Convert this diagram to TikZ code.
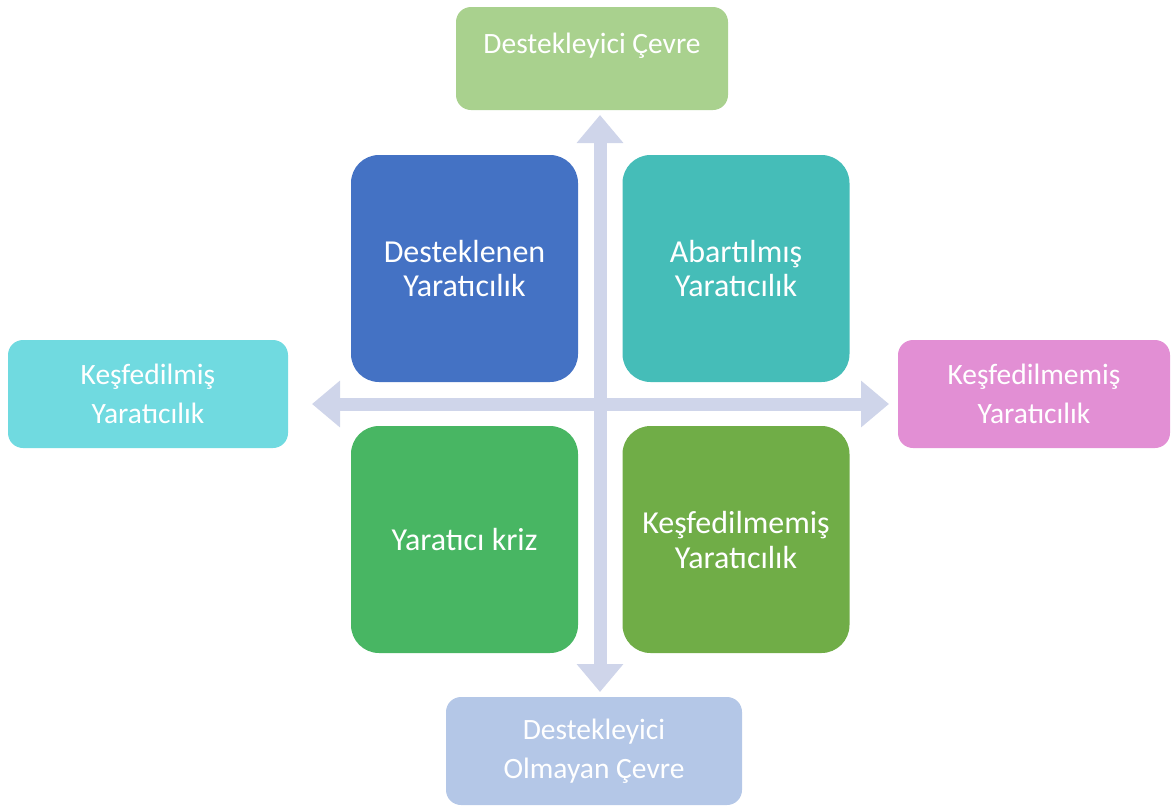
\documentclass[tikz,border=0pt]{standalone}
\usepackage{fontspec}
\setmainfont{Carlito}
\usetikzlibrary{positioning,arrows.meta}
\definecolor{axisgray}{HTML}{CFD5EA}
\definecolor{topgreen}{HTML}{A9D18E}
\definecolor{botblue}{HTML}{B4C7E7}
\definecolor{leftcyan}{HTML}{70DAE0}
\definecolor{rightpink}{HTML}{E28FD4}
\definecolor{tlblue}{HTML}{4472C4}
\definecolor{trteal}{HTML}{45BDB8}
\definecolor{blgreen}{HTML}{48B663}
\definecolor{brgreen}{HTML}{70AD47}

\begin{document}
\begin{tikzpicture}[x=1pt,y=-1pt,
  quad/.style={rounded corners=28pt, minimum width=227pt, minimum height=227pt, inner sep=0pt, text=white, align=center, font=\fontsize{32}{35}\selectfont},
  side/.style={rounded corners=15pt, inner sep=0pt, text=white, align=center, font=\fontsize{29.5}{39}\selectfont},
  axis/.style={axisgray, line width=13pt, {Triangle[width=45pt,length=28pt]}-{Triangle[width=45pt,length=28pt]}}]
\useasboundingbox (0,0) rectangle (1176,807);
% axes
\coordinate (up) at (600,115);
\coordinate (down) at (600,692);
\coordinate (west) at (312,404);
\coordinate (east) at (889,404);
\draw[axis] (up) -- (down);
\draw[axis] (west) -- (east);
% outer boxes
\node[side, fill=topgreen, minimum width=272pt, minimum height=103pt, text height=20pt, text depth=31pt] (env) at (592,58.5) {Destekleyici Çevre};
\node[side, fill=botblue, minimum width=296pt, minimum height=108pt] (noenv) at (594,751) {Destekleyici\\Olmayan Çevre};
\node[side, fill=leftcyan, minimum width=280pt, minimum height=108pt] (found) at (148,394) {Keşfedilmiş\\Yaratıcılık};
\node[side, fill=rightpink, minimum width=272pt, minimum height=108pt] (notfound) at (1034,394) {Keşfedilmemiş\\Yaratıcılık};
% quadrants
\node[quad, fill=tlblue] (supported) at (464.5,268.5) {Desteklenen\\Yaratıcılık};
\node[quad, fill=trteal] (exagg) at (736,268.5) {Abartılmış\\Yaratıcılık};
\node[quad, fill=blgreen] (crisis) at (464.5,539.5) {Yaratıcı kriz};
\node[quad, fill=brgreen] (hidden) at (736,539.5) {Keşfedilmemiş\\Yaratıcılık};
\end{tikzpicture}
\end{document}
